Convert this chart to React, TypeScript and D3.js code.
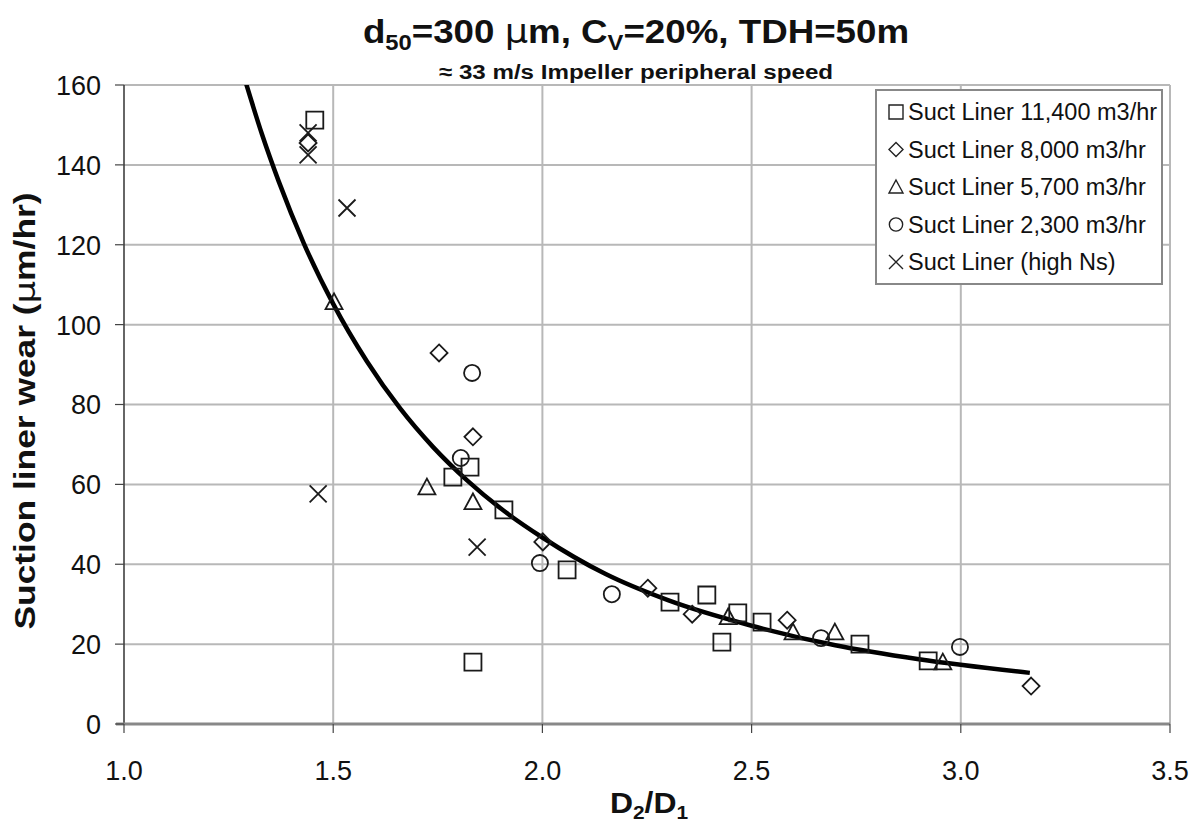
import React from 'react';
import * as d3 from 'd3';

// readings from the reference chart (D2/D1 vs suction liner wear, um/hr)
const sq11400X = [1.456, 1.786, 1.827, 1.908, 2.059, 2.305, 2.393, 2.467, 2.525, 2.429, 1.834, 2.759, 2.922];
const sq11400Y = [151.2, 61.8, 64.3, 53.6, 38.6, 30.5, 32.3, 27.8, 25.5, 20.5, 15.5, 20.0, 15.8];

const dia8000X = [1.44, 1.753, 1.834, 2.001, 2.252, 2.358, 2.585, 3.168];
const dia8000Y = [145.5, 92.9, 71.9, 45.6, 34.0, 27.5, 26.0, 9.5];

const tri5700X = [1.502, 1.724, 1.834, 2.444, 2.599, 2.699, 2.957];
const tri5700Y = [105.7, 59.3, 55.6, 26.8, 23.0, 23.0, 15.5];

const cir2300X = [1.832, 1.805, 1.994, 2.166, 2.666, 2.998];
const cir2300Y = [87.9, 66.6, 40.3, 32.5, 21.5, 19.3];

const highNsX = [1.44, 1.44, 1.533, 1.464, 1.844];
const highNsY = [148.0, 142.5, 129.2, 57.6, 44.3];

// trend curve
const trendX = [1.29, 1.33, 1.37, 1.43, 1.5, 1.58, 1.66, 1.74, 1.82, 1.9, 2.0, 2.15, 2.3, 2.5, 2.7, 2.9, 3.165];
const trendY = [161.0, 147.6, 135.8, 120.3, 105.2, 90.9, 79.0, 69.2, 61.0, 54.0, 46.7, 37.6, 31.0, 24.6, 19.7, 16.2, 12.8];

const xTicks = [1.0, 1.5, 2.0, 2.5, 3.0, 3.5];
const yTicks = [0, 20, 40, 60, 80, 100, 120, 140, 160];

const seriesNames = [
  'Suct Liner 11,400 m3/hr',
  'Suct Liner 8,000 m3/hr',
  'Suct Liner 5,700 m3/hr',
  'Suct Liner 2,300 m3/hr',
  'Suct Liner (high Ns)',
];

const FONT = '"Liberation Sans", Arial, sans-serif';

function markerPath(kind: string, s: number) {
  const h = s / 2;
  const p = d3.path();
  if (kind === 'square') {
    p.rect(-h, -h, s, s);
  } else if (kind === 'diamond') {
    p.moveTo(0, -h); p.lineTo(h, 0); p.lineTo(0, h); p.lineTo(-h, 0); p.closePath();
  } else if (kind === 'triangle') {
    p.moveTo(0, -h); p.lineTo(h, h * 0.85); p.lineTo(-h, h * 0.85); p.closePath();
  } else if (kind === 'circle') {
    p.moveTo(h * 0.95, 0); p.arc(0, 0, h * 0.95, 0, Math.PI * 2);
  } else {
    p.moveTo(-h, -h); p.lineTo(h, h); p.moveTo(h, -h); p.lineTo(-h, h);
  }
  return p.toString();
}

export default function App() {
  const width = 1200, height = 824;
  const x = d3.scaleLinear().domain([1.0, 3.5]).range([124, 1170]);
  const y = d3.scaleLinear().domain([0, 160]).range([724, 85]);

  const series = [
    { kind: 'square', xs: sq11400X, ys: sq11400Y },
    { kind: 'diamond', xs: dia8000X, ys: dia8000Y },
    { kind: 'triangle', xs: tri5700X, ys: tri5700Y },
    { kind: 'circle', xs: cir2300X, ys: cir2300Y },
    { kind: 'x', xs: highNsX, ys: highNsY },
  ];

  const line = d3.line<number>()
    .x((d, i) => x(trendX[i]))
    .y((d) => y(d))
    .curve(d3.curveMonotoneX);

  const [x0, x1] = x.range();
  const [y0, y1] = y.range();

  return (
    <svg width={width} height={height} style={{ display: 'block', position: 'absolute', left: 0, top: 0, background: '#fff' }}>
      <defs>
        <clipPath id="plot">
          <rect x={x0} y={y1} width={x1 - x0} height={y0 - y1} />
        </clipPath>
      </defs>
      <rect width={width} height={height} fill="#fff" />

      {/* titles */}
      <g transform="translate(636,43) scale(1.08,1)">
        <text textAnchor="middle" fontFamily={FONT} fontWeight="bold" fontSize={34} fill="#111">
          d<tspan fontSize={22} dy={7}>50</tspan><tspan dy={-7}>=300 </tspan>
          <tspan fontFamily="DejaVu Sans" fontWeight="normal">µ</tspan>m, C<tspan fontSize={22} dy={7}>V</tspan><tspan dy={-7}>=20%, TDH=50m</tspan>
        </text>
      </g>
      <g transform="translate(636,79) scale(1.15,1)">
        <text textAnchor="middle" fontFamily={FONT} fontWeight="bold" fontSize={21} fill="#111">
          ≈  33 m/s Impeller peripheral speed
        </text>
      </g>

      {/* grid */}
      {yTicks.filter((t) => t > 0).map((t) => (
        <line key={'gy' + t} x1={x0} x2={x1} y1={y(t)} y2={y(t)} stroke="#b8b8b8" strokeWidth={2} />
      ))}
      {xTicks.filter((t) => t > 1).map((t) => (
        <line key={'gx' + t} x1={x(t)} x2={x(t)} y1={y1} y2={y0} stroke="#b8b8b8" strokeWidth={2} />
      ))}

      {/* axes */}
      <line x1={x0} x2={x0} y1={y1} y2={y0} stroke="#333" strokeWidth={1.5} />
      <line x1={x0 - 8} x2={x1} y1={y0} y2={y0} stroke="#888" strokeWidth={3} />
      {yTicks.map((t) => (
        <g key={'ty' + t}>
          <line x1={x0 - 9} x2={x0} y1={y(t)} y2={y(t)} stroke="#444" strokeWidth={1.2} />
          <text x={101} y={y(t)} dy="0.37em" textAnchor="end" fontFamily={FONT} fontSize={27} fill="#111">{t}</text>
        </g>
      ))}
      {xTicks.map((t) => (
        <g key={'tx' + t}>
          <line x1={x(t)} x2={x(t)} y1={y0} y2={y0 + 9} stroke="#444" strokeWidth={1.2} />
          <text x={x(t)} y={780} textAnchor="middle" fontFamily={FONT} fontSize={27} fill="#111">{t.toFixed(1)}</text>
        </g>
      ))}

      {/* axis titles */}
      <g transform="translate(35,411) rotate(-90) scale(1.22,1)">
        <text textAnchor="middle" fontFamily={FONT} fontWeight="bold" fontSize={29} fill="#111">
          Suction liner wear (<tspan fontFamily="DejaVu Sans" fontWeight="normal">µ</tspan>m/hr)
        </text>
      </g>
      <g transform="translate(649,813) scale(1.1,1)">
        <text textAnchor="middle" fontFamily={FONT} fontWeight="bold" fontSize={29} fill="#111">
          D<tspan fontSize={19} dy={6}>2</tspan><tspan dy={-6}>/D</tspan><tspan fontSize={19} dy={6}>1</tspan>
        </text>
      </g>

      {/* trend */}
      <g clipPath="url(#plot)">
        <path d={line(trendY) || ''} fill="none" stroke="#000" strokeWidth={4.5} strokeLinejoin="round" />
      </g>

      {/* markers */}
      {series.map((s) =>
        s.xs.map((v, i) => (
          <path key={s.kind + i} d={markerPath(s.kind, 17)} transform={`translate(${x(v)},${y(s.ys[i])})`}
            fill="none" stroke="#1a1a1a" strokeWidth={1.8} />
        ))
      )}

      {/* legend */}
      <g>
        <rect x={876} y={90} width={286} height={194} fill="#fff" stroke="#888" strokeWidth={2} />
        {seriesNames.map((name, i) => (
          <g key={name} transform={`translate(0,${112 + i * 37.5})`}>
            <path d={markerPath(series[i].kind, 14)} transform="translate(896,0)" fill="none" stroke="#222" strokeWidth={1.4} />
            <text x={908} y={0} dy="0.36em" fontFamily={FONT} fontSize={23.5} fill="#111">{name}</text>
          </g>
        ))}
      </g>
    </svg>
  );
}
